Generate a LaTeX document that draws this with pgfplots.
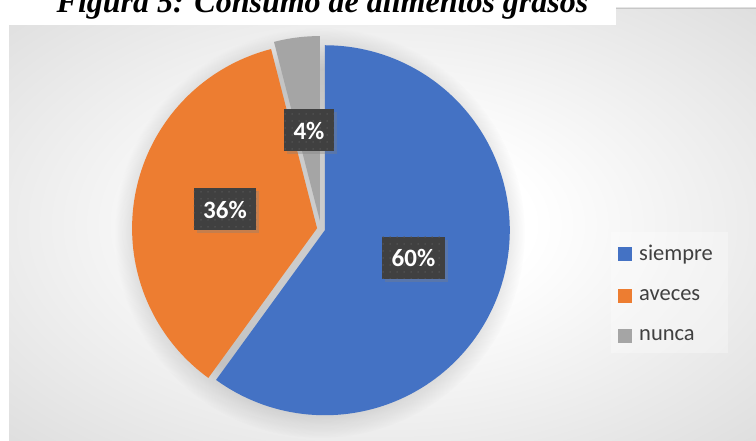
\documentclass[border=0pt]{standalone}
\usepackage{fontspec}
\setmainfont{Liberation Serif}
\newfontfamily\carlito{Carlito}
\usepackage{pgfplots}
\usepackage{pgfplotstable}
\pgfplotsset{compat=1.18}
\usetikzlibrary{shadows, fadings, patterns.meta}

\definecolor{pieblue}{HTML}{4472C4}
\definecolor{pieorange}{HTML}{ED7D31}
\definecolor{piegray}{HTML}{A5A5A5}
\definecolor{lblbox}{HTML}{404040}
\definecolor{legtext}{HTML}{404040}

\pgfdeclareradialshading{chartbg}{\pgfpoint{0bp}{0bp}}{color(0bp)=(white); color(10bp)=(white); color(50bp)=(black!20); color(72bp)=(black!26)}

% share of each answer (%)
\pgfplotstableread{
label value
siempre 60
aveces 36
nunca 4
}\piedata

\pgfplotstablegetelem{0}{value}\of\piedata \let\vA\pgfplotsretval
\pgfplotstablegetelem{1}{value}\of\piedata \let\vB\pgfplotsretval
\pgfplotstablegetelem{2}{value}\of\piedata \let\vC\pgfplotsretval
\pgfplotstablegetelem{0}{label}\of\piedata \let\lA\pgfplotsretval
\pgfplotstablegetelem{1}{label}\of\piedata \let\lB\pgfplotsretval
\pgfplotstablegetelem{2}{label}\of\piedata \let\lC\pgfplotsretval

% pie geometry in pixel units (1pt = 1px), y pointing down
\def\cx{321}\def\cy{229}\def\R{185}
\pgfmathsetmacro\aA{90}
\pgfmathsetmacro\aB{\aA-3.6*\vA}
\pgfmathsetmacro\aC{\aB-3.6*\vB}
\pgfmathsetmacro\aD{\aC-3.6*\vC}
% exploded centres
\pgfmathsetmacro\oxA{\cx+4*cos((\aA+\aB)/2)}
\pgfmathsetmacro\oyA{\cy-4*sin((\aA+\aB)/2)}
\pgfmathsetmacro\oxB{\cx+4*cos((\aB+\aC)/2)}
\pgfmathsetmacro\oyB{\cy-4*sin((\aB+\aC)/2)}
\pgfmathsetmacro\oxC{\cx+8*cos((\aC+\aD)/2)}
\pgfmathsetmacro\oyC{\cy-8*sin((\aC+\aD)/2)}

\tikzset{
  lbl/.style={fill=lblbox, text=white, inner xsep=9.5pt, inner ysep=0pt,
    minimum height=42pt,
    font=\carlito\bfseries\fontsize{25}{25}\selectfont,
    drop shadow={shadow xshift=3pt, shadow yshift=-3pt, opacity=0.35},
    postaction={pattern={Dots[distance=6.5pt, radius=0.8pt]}, pattern color=white!14!lblbox}},
}

\begin{document}
\begin{tikzpicture}
\begin{axis}[
    x=1pt, y=1pt,
    xmin=0, xmax=756, ymin=0, ymax=441,
    y dir=reverse,
    hide axis,
    clip=false,
    legend style={at={(axis cs:613,241)}, anchor=north west, draw=none, fill=none,
        font=\carlito\fontsize{22.5}{22.5}\selectfont, text=legtext,
        row sep=23.5pt, column sep=5pt, inner xsep=5pt, inner ysep=2pt, nodes={inner sep=2pt}},
    legend cell align=left,
    legend image code/.code={\fill[#1, draw=none] (0pt,-7pt) rectangle (14pt,7pt);},
]

% page, chart area and title box
\fill[white] (axis cs:0,0) rectangle (axis cs:756,441);
\shade[shading=chartbg] (axis cs:9,8) rectangle (axis cs:756,441);
\draw[black!22, line width=0.8pt] (axis cs:9,8) -- (axis cs:756,8);
\fill[white] (axis cs:0,0) rectangle (axis cs:616,25);
\node[font=\bfseries\itshape\fontsize{32}{32}\selectfont, anchor=base, inner sep=0pt]
    at (axis cs:322.5,12.5) {Figura 5: Consumo de alimentos grasos};

% soft shadow under the pie
\fill[black, opacity=0.2, path fading=circle with fuzzy edge 20 percent]
    (axis cs:320,233) circle (205);

% slices
\addplot[fill=pieblue, draw=none, domain=\aB:\aA, samples=120]
    ({\oxA+\R*cos(x)}, {\oyA-\R*sin(x)}) -- (axis cs:\oxA,\oyA) -- cycle;
\addlegendentry{\lA}
\addplot[fill=pieorange, draw=none, domain=\aC:\aB, samples=80]
    ({\oxB+\R*cos(x)}, {\oyB-\R*sin(x)}) -- (axis cs:\oxB,\oyB) -- cycle;
\addlegendentry{\lB}
\addplot[fill=piegray, draw=none, domain=\aD:\aC, samples=20]
    ({\oxC+\R*cos(x)}, {\oyC-\R*sin(x)}) -- (axis cs:\oxC,\oyC) -- cycle;
\addlegendentry{\lC}

% data labels
\node[lbl] at (axis cs:413.5,258) {\vA\%};
\node[lbl] at (axis cs:225,209.5) {\vB\%};
\node[lbl] at (axis cs:309,130.5) {\vC\%};

% legend backdrop
\fill[white, opacity=0.3] (axis cs:611,232) rectangle (axis cs:728,353);

\end{axis}
\pgfresetboundingbox
\path (current axis.south west) rectangle (current axis.north east);
\end{tikzpicture}
\end{document}
